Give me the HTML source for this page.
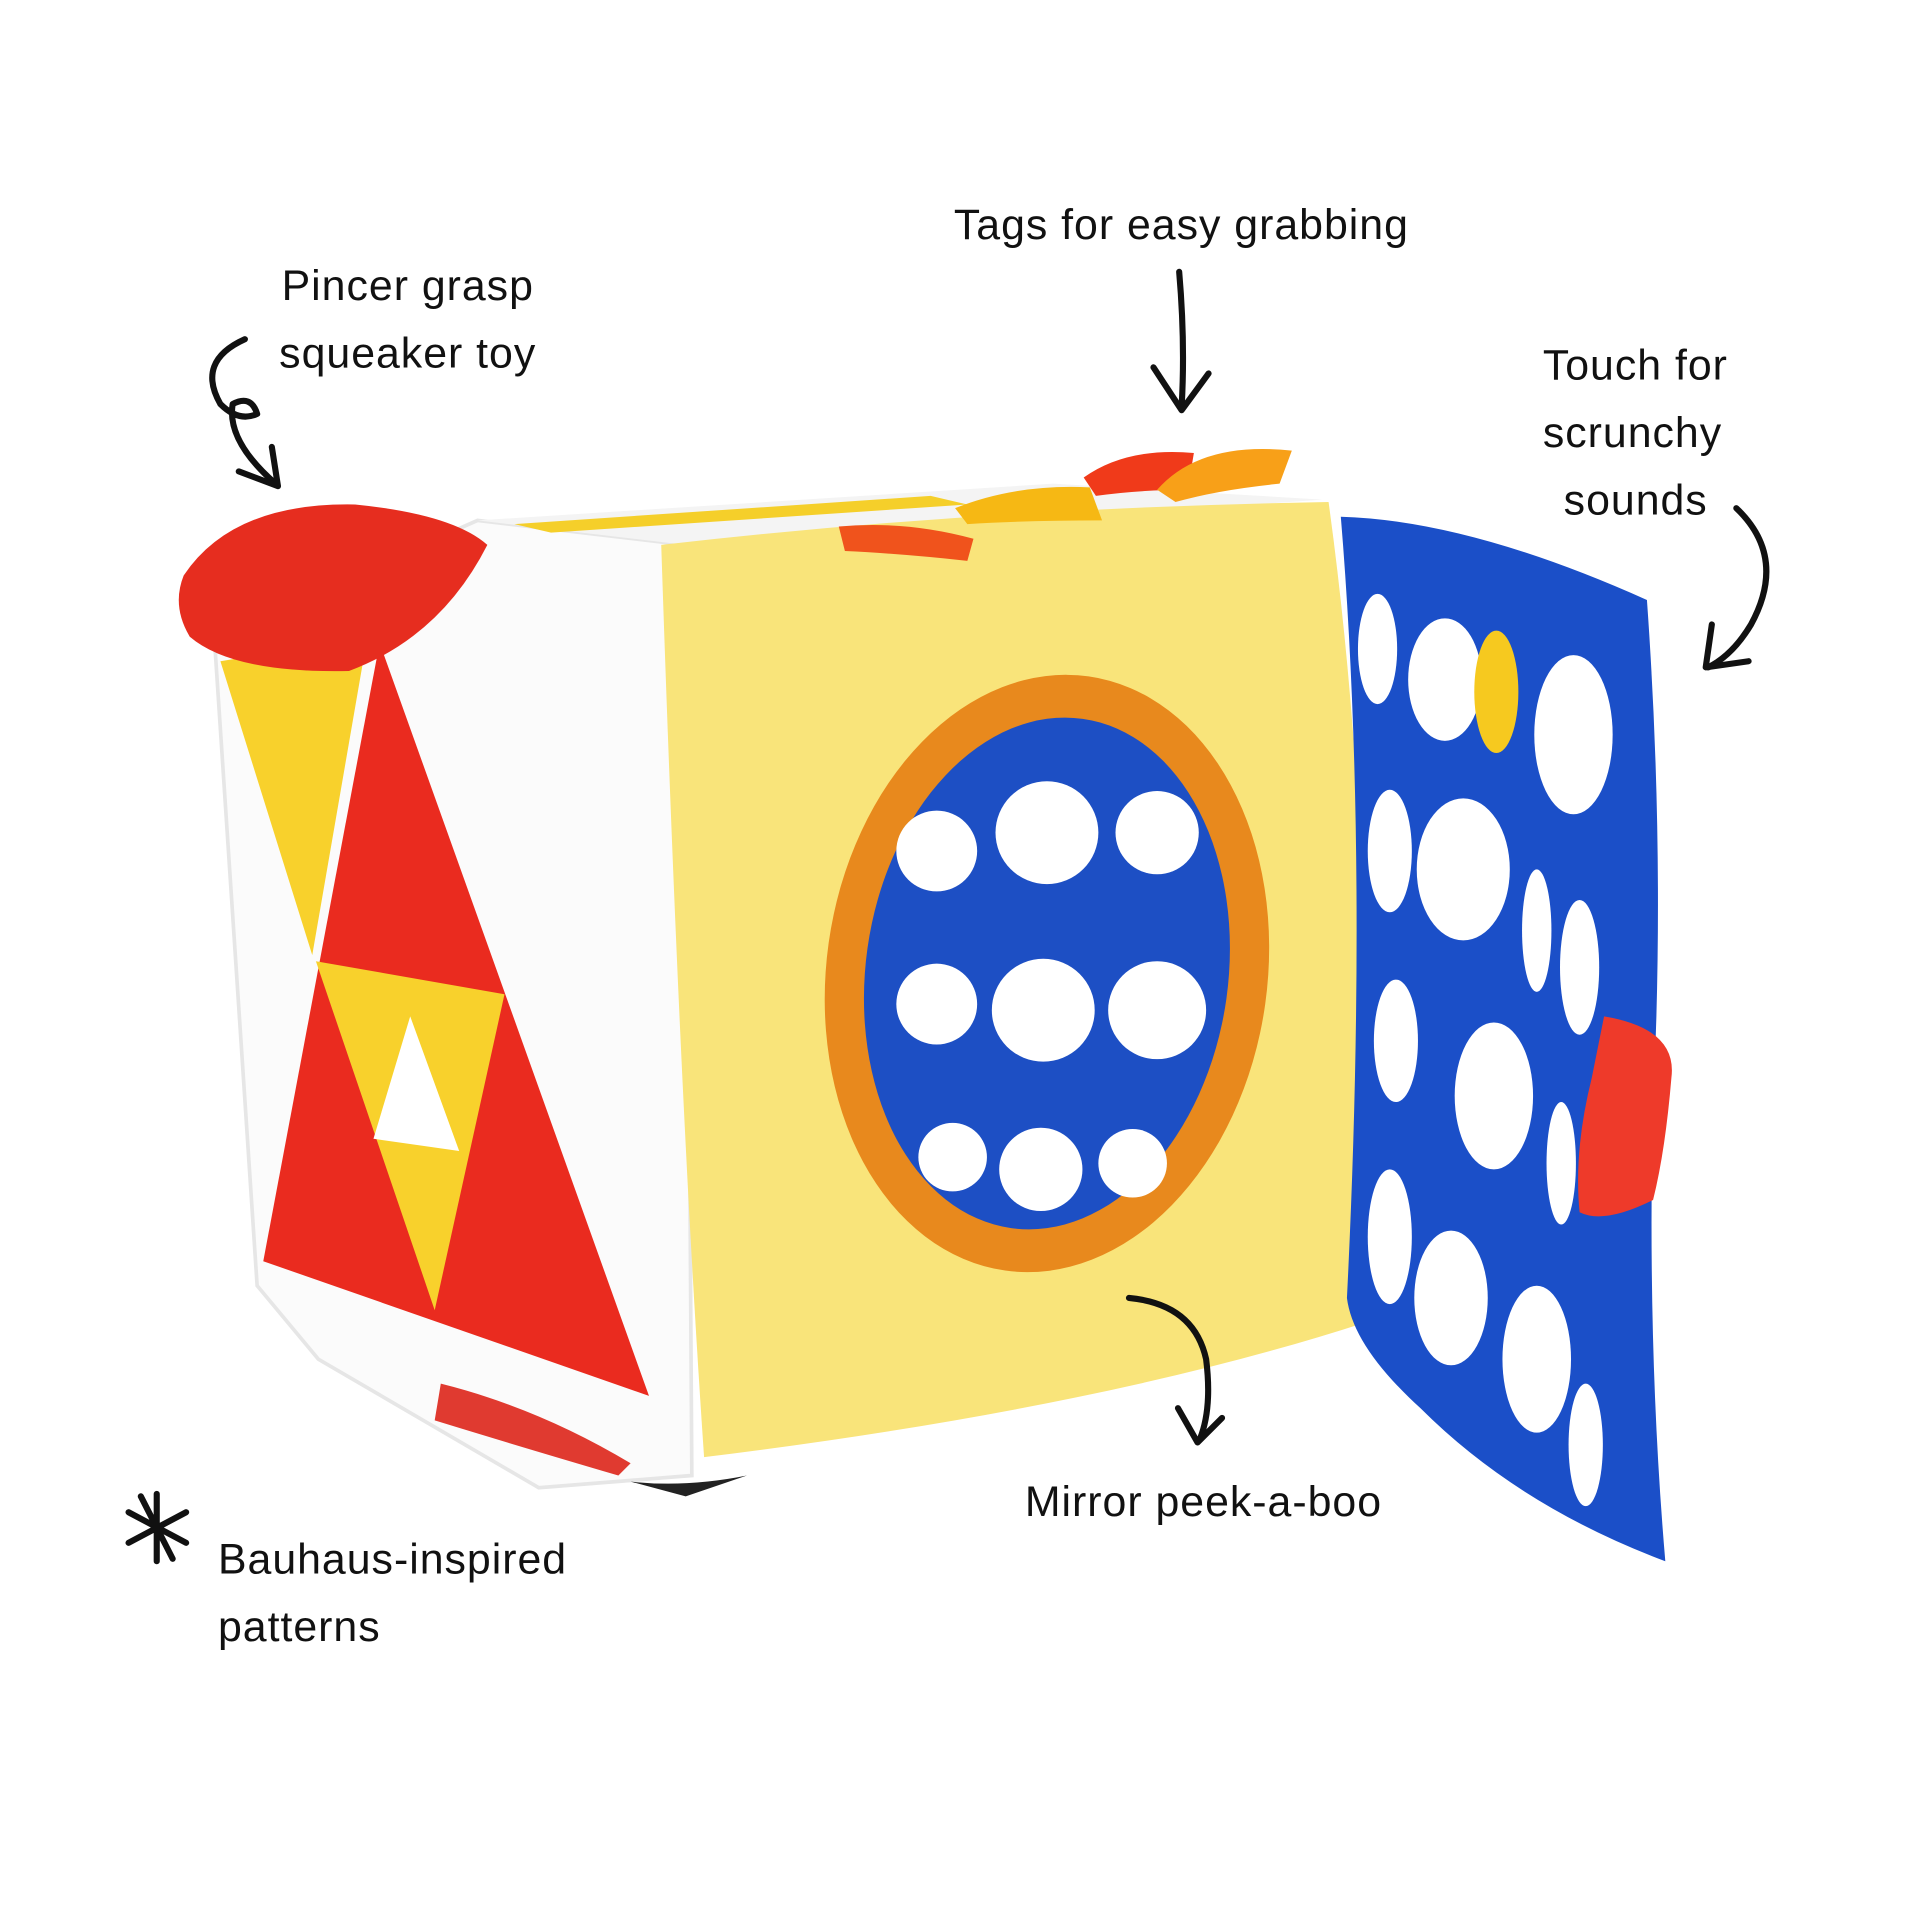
<!DOCTYPE html>
<html><head><meta charset="utf-8"><style>
html,body{margin:0;padding:0;background:#fff}
svg{display:block}
text{font-family:"Liberation Sans",sans-serif;fill:#111;font-size:35px;letter-spacing:0.8px}
</style></head><body>
<svg width="1920" height="1920" viewBox="0 0 1568 1568" xmlns="http://www.w3.org/2000/svg">
<rect width="1568" height="1568" fill="#fff"/>
<path d="M175 520 L390 425 L560 445 L565 1205 L440 1215 L260 1110 L210 1050 Z" fill="#fbfbfb" stroke="#e6e6e6" stroke-width="3"/>
<path d="M390 425 L860 395 L1080 408 L560 445 Z" fill="#f4f4f4"/>
<path d="M420 428 L760 405 L790 412 L450 435 Z" fill="#f5cf2a"/>
<polygon points="180,540 300,520 255,780" fill="#f8d12c"/>
<polygon points="310,525 215,1030 530,1140" fill="#ea2b1f"/>
<polygon points="258,785 412,812 355,1070" fill="#f8d12c"/>
<polygon points="335,830 305,930 375,940" fill="#fff"/>
<path d="M150 470 Q190 410 290 412 Q370 420 398 445 Q360 520 285 548 Q190 550 155 520 Q140 495 150 470 Z" fill="#e62d1f"/>
<path d="M360 1130 Q440 1150 515 1195 L505 1205 Q420 1180 355 1160 Z" fill="#e03a30"/>
<path d="M540 445 Q800 415 1085 410 Q1125 700 1115 1080 Q900 1150 575 1190 Q555 900 540 445 Z" fill="#f9e47a"/>
<ellipse cx="855" cy="795" rx="180" ry="245" fill="#e8891d" transform="rotate(8 855 795)"/>
<ellipse cx="855" cy="795" rx="148" ry="210" fill="#1d4fc4" transform="rotate(8 855 795)"/>
<g fill="#fff">
<circle cx="765" cy="695" r="33"/><circle cx="855" cy="680" r="42"/><circle cx="945" cy="680" r="34"/>
<circle cx="765" cy="820" r="33"/><circle cx="852" cy="825" r="42"/><circle cx="945" cy="825" r="40"/>
<circle cx="778" cy="945" r="28"/><circle cx="850" cy="955" r="34"/><circle cx="925" cy="950" r="28"/>
</g>
<path d="M685 430 Q740 425 795 440 L790 458 Q735 452 690 450 Z" fill="#f0531c"/>
<path d="M780 415 Q830 395 890 398 L900 425 Q840 425 790 428 Z" fill="#f6b814"/>
<path d="M885 390 Q920 365 975 370 L970 400 Q930 400 895 405 Z" fill="#f03a1a"/>
<path d="M945 400 Q980 360 1055 368 L1045 395 Q995 400 960 410 Z" fill="#f8a018"/>
<path d="M1095 422 Q1200 425 1345 490 Q1360 700 1350 900 Q1345 1100 1360 1275 Q1240 1230 1160 1150 Q1105 1100 1100 1060 Q1118 700 1095 422 Z" fill="#1b4fc8"/>
<g fill="#fff">
<ellipse cx="1125" cy="530" rx="16" ry="45"/><ellipse cx="1180" cy="555" rx="30" ry="50"/><ellipse cx="1285" cy="600" rx="32" ry="65"/>
<ellipse cx="1135" cy="695" rx="18" ry="50"/><ellipse cx="1195" cy="710" rx="38" ry="58"/><ellipse cx="1255" cy="760" rx="12" ry="50"/><ellipse cx="1290" cy="790" rx="16" ry="55"/>
<ellipse cx="1140" cy="850" rx="18" ry="50"/><ellipse cx="1220" cy="895" rx="32" ry="60"/><ellipse cx="1275" cy="950" rx="12" ry="50"/>
<ellipse cx="1135" cy="1010" rx="18" ry="55"/><ellipse cx="1185" cy="1060" rx="30" ry="55"/><ellipse cx="1255" cy="1110" rx="28" ry="60"/><ellipse cx="1295" cy="1180" rx="14" ry="50"/>
</g>
<ellipse cx="1222" cy="565" rx="18" ry="50" fill="#f6c91f"/>
<path d="M1310 830 Q1370 840 1365 880 Q1360 940 1350 980 Q1310 1000 1290 990 Q1285 940 1300 880 Z" fill="#ee3a2a"/>
<path d="M515 1210 Q560 1215 610 1205 L560 1222 Z" fill="#222"/>
<text x="230" y="245">Pincer grasp</text>
<text x="228" y="300">squeaker toy</text>
<text x="779" y="195">Tags for easy grabbing</text>
<text x="1260" y="310">Touch for</text>
<text x="1260" y="365">scrunchy</text>
<text x="1277" y="420">sounds</text>
<text x="837" y="1238">Mirror peek-a-boo</text>
<text x="178" y="1285">Bauhaus-inspired</text>
<text x="178" y="1340">patterns</text>
<g fill="none" stroke="#111" stroke-width="5" stroke-linecap="round" stroke-linejoin="round">
<path d="M963 222 Q968 280 965 332"/><path d="M942 300 L965 335 L987 305"/>
<path d="M200 277 Q160 295 180 330 Q195 345 210 338 Q205 322 190 330 Q185 360 225 395"/><path d="M195 385 L227 397 L222 365"/>
<path d="M1418 415 Q1460 455 1430 510 Q1415 535 1395 545"/><path d="M1398 510 L1393 545 L1428 540"/>
<path d="M922 1060 Q975 1065 985 1110 Q990 1150 980 1175"/><path d="M962 1150 L978 1178 L998 1158"/>
<path d="M128 1220 L128 1275 M105 1235 L152 1260 M105 1260 L152 1235 M115 1222 L141 1273"/>
</g>
</svg>
</body></html>
